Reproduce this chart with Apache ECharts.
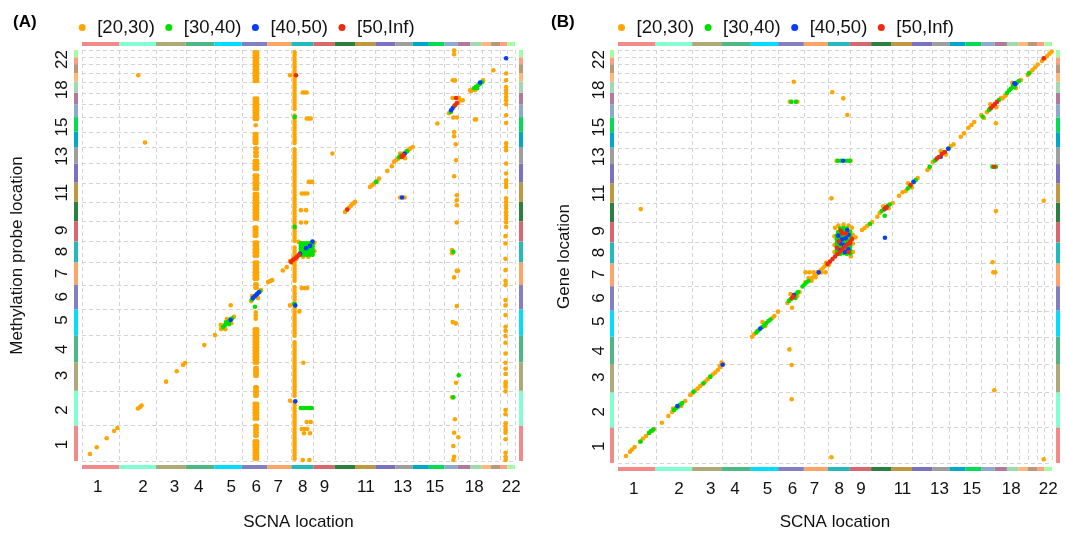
<!DOCTYPE html>
<html>
<head>
<meta charset="utf-8">
<script src="https://cdn.jsdelivr.net/npm/echarts@6/dist/echarts.min.js"></script>
<style>
  html, body { margin: 0; padding: 0; background: #ffffff; }
  #chart { width: 1065px; height: 537px; }
</style>
</head>
<body>
<div id="chart"></div>
<script>
// Chromosome lengths (Mb, hg19) laid end to end on a genome-wide axis
const chromLengths = [249, 243, 198, 191, 181, 171, 159, 146, 141, 136, 135, 134, 115, 107, 103, 90, 81, 78, 59, 63, 48, 51];
const chromColors = ['#F28A8A', '#80FFD0', '#ADAA78', '#4CB884', '#00DDFF', '#8280C0', '#FFA468', '#22BBBB',
  '#D86870', '#2B8040', '#C09840', '#7A72C0', '#9E9E9E', '#00A8C8', '#00DD55', '#8AAAD0', '#B07A98',
  '#A0D8B0', '#FFB878', '#BB9978', '#FFA080', '#A0FFA0'];

// Axis tick labels and their genome positions (Mb)
const tickLabels = ['1', '2', '3', '4', '5', '6', '7', '8', '9', '11', '13', '15', '18', '22'];
const xTickPositions = [105, 405, 615, 776, 992, 1158, 1304, 1468, 1612, 1887, 2133, 2346, 2608, 2854];
const yTickPositions = [116, 357, 598, 782, 988, 1150, 1315, 1468, 1617, 1880, 2135, 2340, 2600, 2812];

// Association strength classes
const classNames = ['[20,30)', '[30,40)', '[40,50)', '[50,Inf)'];
const classColors = ['#FFA500', '#00E000', '#0A3CFF', '#F02A10'];

// ---- Panel A: SCNA position (x) vs methylation probe position (y), genome Mb ----
// dense vertical runs of [20,30) associations: [x1, x2, y1, y2]
const probeRuns = [
  [1133, 1180, 2646, 2879], [1133, 1180, 2380, 2555], [1140, 1170, 2331, 2373], [1133, 1175, 2212, 2306],
  [1137, 1177, 2121, 2205], [1133, 1180, 2030, 2117], [1133, 1180, 1890, 2016], [1133, 1180, 1680, 1886],
  [1133, 1175, 1561, 1652], [1133, 1180, 1421, 1547], [1133, 1180, 1260, 1407], [1137, 1177, 1197, 1253],
  [1137, 1173, 980, 1057], [1133, 1180, 672, 938], [1137, 1177, 581, 668], [1137, 1177, 441, 532],
  [1133, 1180, 280, 416], [1137, 1177, 161, 262], [1133, 1180, 0, 154],
  [1397, 1430, 2450, 2879], [1397, 1430, 2212, 2436], [1397, 1430, 1526, 2198], [1397, 1430, 1246, 1512],
  [1397, 1430, 861, 1232], [1397, 1430, 441, 847], [1397, 1430, 0, 427]
];
const probe20 = [
  [53, 49], [98, 96], [164, 159], [213, 210], [235, 231], [372, 368], [386, 378], [396, 389],
  [559, 556], [630, 629], [672, 672], [685, 686], [813, 812], [884, 882],
  [925, 925], [953, 923], [923, 953], [993, 965], [963, 995], [1010, 1010], [989, 1091],
  [1124, 1120], [1190, 1197], [1130, 1155], [1170, 1141],
  [1237, 1253], [1250, 1260], [1264, 1267], [1335, 1334], [1361, 1358],
  [1383, 1400], [1397, 1388], [1410, 1425], [1423, 1413], [1436, 1438],
  [1440, 1535], [1545, 1530], [1545, 1470], [1505, 1430], [1470, 1430],
  [1383, 2702], [1468, 2581], [1481, 2581], [1494, 2581], [1494, 2399], [1508, 2399], [1521, 2399],
  [1508, 1955], [1520, 1955], [1530, 1955], [1461, 1874], [1480, 1874], [1498, 1874],
  [1456, 1757], [1490, 1757], [1456, 1671], [1490, 1671], [1461, 1211], [1480, 1211], [1498, 1211],
  [1445, 1048], [1472, 688], [1494, 273], [1521, 273], [1461, 224], [1480, 224], [1498, 224],
  [1476, 194], [1516, 194], [1468, 7], [1512, 7], [1383, 1090], [1383, 422],
  [374, 2702], [419, 2231], [1665, 2154],
  [1749, 1745], [1762, 1761], [1776, 1775], [1789, 1789], [1802, 1803], [1815, 1815],
  [1915, 1920], [1929, 1932], [1942, 1943], [1962, 1960], [1975, 1979], [2030, 2032], [2060, 2065],
  [2075, 2097], [2088, 2107], [2101, 2118], [2115, 2128], [2128, 2142], [2141, 2156], [2155, 2167],
  [2168, 2177], [2181, 2188], [2199, 2200], [2115, 2153], [2148, 2121],
  [2115, 1846], [2145, 1846], [2363, 2364],
  [2514, 2527], [2464, 2543], [2507, 2543], [2440, 2436], [2500, 2506], [2531, 2527],
  [2587, 2590], [2600, 2604], [2667, 2667], [2580, 2597], [2613, 2598],
  [2613, 2392], [2620, 2392], [2735, 2737],
  [2474, 2876], [2474, 2849], [2465, 2667], [2480, 2667], [2469, 2406], [2492, 2406], [2474, 2305],
  [2474, 2275], [2485, 2219], [2487, 2107], [2474, 1995], [2492, 1862], [2492, 1827], [2492, 1792],
  [2492, 1671], [2460, 1477], [2460, 1455], [2492, 1332], [2500, 1332], [2474, 1286], [2492, 1085],
  [2465, 973], [2485, 964], [2487, 548], [2460, 446], [2480, 292], [2474, 198], [2502, 166],
  [2469, 105], [2474, 30], [2469, 7],
  [2816, 1575], [2816, 1524], [2816, 1416], [2816, 1337], [2816, 1262], [2816, 1232], [2816, 1127],
  [2816, 1090], [2816, 1022], [2816, 940], [2816, 912], [2816, 875], [2816, 828], [2816, 753],
  [2816, 688], [2816, 646], [2816, 609], [2816, 553], [2816, 539], [2816, 520], [2816, 488],
  [2816, 357], [2816, 327], [2816, 264], [2816, 240], [2816, 217], [2816, 198], [2816, 152],
  [2816, 58], [2816, 30], [2816, 7],
  [2820, 2714], [2820, 2667], [2820, 2620], [2820, 2597], [2820, 2574], [2820, 2550], [2820, 2527],
  [2820, 2499], [2820, 2422], [2820, 2368], [2820, 2226], [2820, 2200], [2820, 2177], [2820, 2084],
  [2820, 2014], [2820, 1967], [2820, 1944], [2820, 1920], [2820, 1841], [2820, 1815], [2820, 1792],
  [2820, 1769], [2820, 1743], [2820, 1722], [2820, 1699], [2820, 1673], [2820, 1640]
];
const probe30 = [
  [938, 938], [951, 952], [964, 966], [978, 980], [991, 994], [998, 998], [958, 973], [978, 959],
  [1130, 1131], [1144, 1148], [1157, 1162], [1170, 1176], [1184, 1187], [1150, 1080],
  [1455, 1445], [1475, 1445], [1495, 1445], [1515, 1445], [1533, 1445],
  [1455, 1465], [1475, 1465], [1495, 1465], [1515, 1465], [1533, 1465],
  [1455, 1485], [1475, 1485], [1495, 1485], [1515, 1485], [1533, 1485],
  [1455, 1505], [1475, 1505], [1495, 1505], [1515, 1505], [1533, 1505],
  [1455, 1525], [1475, 1525], [1495, 1525], [1515, 1525], [1533, 1525],
  [1414, 2410], [1414, 1640], [1411, 1099],
  [1455, 371], [1470, 371], [1485, 371], [1500, 371], [1515, 371], [1527, 371],
  [1955, 1955], [2108, 2128], [2121, 2139], [2148, 2156], [2161, 2170],
  [2452, 2445], [2474, 2485],
  [2607, 2611], [2620, 2622], [2633, 2632], [2647, 2643], [2660, 2653], [2627, 2611],
  [2469, 1465], [2505, 600], [2469, 446]
];
const probe40 = [
  [988, 987], [1137, 1141], [1150, 1155], [1164, 1169], [1177, 1183],
  [1450, 1451], [1490, 1491], [1516, 1507], [1532, 1537],
  [1418, 1090], [1418, 418], [2145, 2152], [2128, 1846],
  [2454, 2457], [2465, 2473], [2647, 2651], [2820, 2821]
];
const probe50 = [
  [1390, 1395], [1403, 1409], [1416, 1419], [1430, 1430], [1443, 1444],
  [1423, 2702], [1764, 1762], [2128, 2135], [2138, 2142], [2126, 2130],
  [2480, 2492], [2492, 2508], [2487, 2543]
];

// ---- Panel B: SCNA position (x) vs gene position (y), genome Mb ----
const gene20 = [
  [53, 49], [80, 79], [93, 94], [110, 112],
  [146, 148], [166, 171], [186, 188], [206, 209], [226, 223], [239, 237],
  [291, 281], [334, 328], [359, 355], [446, 432], [365, 380], [420, 398],
  [479, 474], [495, 488], [512, 505], [529, 519], [545, 537], [562, 551], [579, 568], [595, 585],
  [612, 599], [628, 617], [645, 631], [662, 648], [675, 676], [678, 669], [698, 690], [688, 700],
  [889, 880], [904, 899], [924, 920], [1024, 1011], [1037, 1025], [978, 955], [958, 983],
  [1062, 1055], [1124, 1115], [1137, 1136], [1204, 1192], [1190, 1164], [1144, 1178],
  [1155, 1082], [1137, 792], [1152, 683], [1152, 444],
  [1277, 1282], [1290, 1293], [1303, 1303], [1317, 1317], [1330, 1328], [1343, 1342], [1357, 1356],
  [1370, 1370], [1244, 1329], [1270, 1329], [1297, 1329], [1324, 1329], [1350, 1329], [1377, 1329],
  [1244, 1262], [1264, 1289], [1284, 1270], [1310, 1295],
  [1380, 1395], [1398, 1380], [1436, 1470], [1436, 1520], [1436, 1580], [1440, 1640], [1462, 1655],
  [1496, 1660], [1530, 1655], [1552, 1640], [1558, 1590], [1558, 1530], [1558, 1470], [1545, 1440],
  [1576, 1573], [1619, 1624], [1636, 1638], [1652, 1652], [1669, 1666], [1686, 1680], [1720, 1717],
  [1736, 1743], [1822, 1812], [1796, 1776], [1760, 1790], [1864, 1863], [1887, 1887],
  [1909, 1896], [1988, 1986], [1950, 1920], [1925, 1950], [2053, 2042], [2065, 2056],
  [2088, 2098], [2108, 2112], [2208, 2209], [2175, 2150], [2140, 2175], [2226, 2221],
  [2274, 2274], [2296, 2298], [2325, 2337], [2345, 2356], [2363, 2377], [2410, 2425], [2428, 2405],
  [2447, 2446], [2540, 2544], [2552, 2542], [2574, 2565], [2470, 2500], [2510, 2480], [2507, 2368],
  [2567, 2558], [2673, 2670], [2640, 2614], [2615, 2650],
  [2718, 2704], [2733, 2722], [2750, 2739], [2766, 2757], [2784, 2778],
  [2813, 2802], [2830, 2819], [2846, 2837], [2863, 2854], [2877, 2868],
  [1166, 2658], [1421, 2584], [1494, 2542], [1521, 2426], [1450, 2107], [1543, 2107], [1416, 1845],
  [2507, 1756], [2824, 1828], [151, 1770], [2485, 1399], [2490, 1329], [2503, 1329], [2496, 507],
  [1416, 40], [2824, 26], [1140, 2518], [1190, 2518]
];
const gene30 = [
  [150, 150], [206, 209], [219, 223], [233, 233],
  [372, 369], [386, 383], [400, 393], [412, 408], [426, 418],
  [501, 497], [567, 556], [612, 602],
  [918, 910], [931, 924], [958, 948], [971, 962], [984, 976], [998, 990], [1011, 1000],
  [1134, 1129], [1147, 1143], [1184, 1181], [1194, 1192], [1177, 1150],
  [1224, 1230], [1237, 1244], [1250, 1258], [1264, 1269],
  [1452, 1460], [1474, 1458], [1496, 1462], [1518, 1458], [1540, 1460],
  [1452, 1485], [1474, 1482], [1496, 1486], [1518, 1482], [1540, 1485],
  [1452, 1510], [1474, 1507], [1496, 1512], [1518, 1507], [1540, 1510],
  [1452, 1535], [1474, 1532], [1496, 1538], [1518, 1532], [1540, 1535],
  [1452, 1560], [1474, 1557], [1496, 1562], [1518, 1557], [1540, 1560],
  [1452, 1585], [1474, 1582], [1496, 1588], [1518, 1582], [1540, 1585],
  [1460, 1610], [1482, 1607], [1504, 1612], [1526, 1607], [1540, 1612],
  [1474, 1634], [1496, 1638], [1518, 1634],
  [1671, 1666], [1749, 1756], [1762, 1767], [1789, 1791], [1802, 1802], [1769, 1724],
  [1922, 1913], [1935, 1927], [1962, 1957], [1975, 1972], [2068, 2065],
  [2101, 2108], [2128, 2133], [2161, 2164], [2195, 2192], [2419, 2414],
  [2461, 2460], [2527, 2530], [2467, 2470],
  [2580, 2579], [2594, 2596], [2607, 2610], [2620, 2628], [2647, 2652], [2660, 2663], [2630, 2620],
  [2725, 2716],
  [1150, 2518], [1180, 2518], [1458, 2107], [1478, 2107], [1518, 2107], [1538, 2107],
  [2484, 2065], [2507, 2065]
];
const gene40 = [
  [394, 397], [694, 685], [944, 937], [1167, 1171], [1332, 1329],
  [1476, 1531], [1521, 1624], [1510, 1566], [1498, 1519], [1528, 1489], [1472, 1485],
  [1462, 1585], [1530, 1590], [1505, 1470], [1486, 1560],
  [1776, 1777], [1771, 1570], [1960, 1961], [2141, 2135], [2190, 2191], [2629, 2647], [2637, 2642],
  [1494, 2107]
];
const gene50 = [
  [1154, 1150], [1164, 1160],
  [1390, 1387], [1406, 1404], [1423, 1422], [1440, 1439], [1456, 1457], [1473, 1474], [1490, 1492],
  [1506, 1509], [1523, 1526], [1540, 1544], [1553, 1561], [1538, 1531], [1488, 1601],
  [1465, 1545], [1512, 1600], [1530, 1470], [1478, 1620], [1452, 1500],
  [1769, 1770], [1782, 1784], [1942, 1938],
  [2115, 2122], [2131, 2133], [2148, 2154], [2168, 2168],
  [2474, 2474], [2487, 2488], [2500, 2502], [2514, 2516], [2824, 2821], [2496, 2065]
];

// ---- layout helpers ----
const chromStarts = [];
chromLengths.reduce((acc, len) => { chromStarts.push(acc); return acc + len; }, 0);
const genomeLength = chromLengths.reduce((a, b) => a + b, 0);
const boundaryIndex = chromLengths.map((_, i) => i).concat([chromLengths.length]);
const FONT = '"Liberation Sans", Arial, Helvetica, sans-serif';
const DOT = 4.6;

function boundaryPos(i) {
  return i < chromLengths.length ? chromStarts[i] : genomeLength;
}

// chromosome colour strips on all four sides plus dashed boundary lines
function renderFrame(params, api) {
  const i = api.value(0);
  const cs = params.coordSys;
  const start = boundaryPos(i);
  const px = Math.round(api.coord([start, 0])[0]) + 0.5;
  const py = Math.round(api.coord([0, start])[1]) + 0.5;
  const dash = { stroke: '#D4D4D4', lineWidth: 1, lineDash: [4, 3] };
  const children = [
    { type: 'line', shape: { x1: px, y1: cs.y, x2: px, y2: cs.y + cs.height }, style: dash },
    { type: 'line', shape: { x1: cs.x, y1: py, x2: cs.x + cs.width, y2: py }, style: dash }
  ];
  if (i < chromLengths.length) {
    const end = start + chromLengths[i];
    const x0 = api.coord([start, 0])[0], x1 = api.coord([end, 0])[0];
    const y0 = api.coord([0, start])[1], y1 = api.coord([0, end])[1];
    const fill = chromColors[i];
    children.push(
      { type: 'rect', shape: { x: x0, y: cs.y - 8, width: x1 - x0, height: 4 }, style: { fill } },
      { type: 'rect', shape: { x: x0, y: cs.y + cs.height + 4, width: x1 - x0, height: 4 }, style: { fill } },
      { type: 'rect', shape: { x: cs.x - 8, y: y1, width: 4, height: y0 - y1 }, style: { fill } },
      { type: 'rect', shape: { x: cs.x + cs.width + 4, y: y1, width: 4, height: y0 - y1 }, style: { fill } }
    );
  }
  return { type: 'group', children };
}

// a run of stacked associations, drawn as closely packed dots
function renderRun(params, api) {
  const a = api.coord([api.value(0), api.value(3)]);
  const b = api.coord([api.value(1), api.value(2)]);
  const r = DOT / 2;
  const w = b[0] - a[0], h = b[1] - a[1];
  const cols = Math.max(1, Math.round((w - DOT) / 2.4) + 1);
  const rows = Math.max(1, Math.round((h - DOT) / 3) + 1);
  const children = [];
  for (let c = 0; c < cols; c++) {
    const cx = cols === 1 ? a[0] + w / 2 : a[0] + r + c * (w - DOT) / (cols - 1);
    for (let k = 0; k < rows; k++) {
      const cy = rows === 1 ? a[1] + h / 2 : a[1] + r + k * (h - DOT) / (rows - 1);
      children.push({ type: 'circle', shape: { cx, cy, r }, style: { fill: classColors[0] } });
    }
  }
  return { type: 'group', children };
}

function makeFormatter(positions) {
  return function (v) {
    let best = 0;
    positions.forEach((p, k) => { if (Math.abs(p - v) < Math.abs(positions[best] - v)) best = k; });
    return tickLabels[best];
  };
}

function makeXAxis(gridIndex, nameGap) {
  return {
    type: 'value', gridIndex, min: 0, max: genomeLength,
    axisLine: { show: false }, axisTick: { show: false }, splitLine: { show: false },
    axisLabel: {
      customValues: xTickPositions, formatter: makeFormatter(xTickPositions), margin: 18,
      color: '#111', fontSize: 17, fontFamily: FONT, hideOverlap: false
    },
    name: 'SCNA location', nameLocation: 'middle', nameGap,
    nameTextStyle: { color: '#111', fontSize: 17, fontFamily: FONT }
  };
}

function makeYAxis(gridIndex, name, nameGap, margin) {
  return {
    type: 'value', gridIndex, min: 0, max: genomeLength,
    axisLine: { show: false }, axisTick: { show: false }, splitLine: { show: false },
    axisLabel: {
      customValues: yTickPositions, formatter: makeFormatter(yTickPositions), rotate: 90, margin,
      color: '#111', fontSize: 17, fontFamily: FONT, hideOverlap: false
    },
    name, nameLocation: 'middle', nameGap, nameRotate: 90,
    nameTextStyle: { color: '#111', fontSize: 17, fontFamily: FONT }
  };
}

function panelSeries(idx, groups, runs) {
  const list = [{
    type: 'custom', xAxisIndex: idx, yAxisIndex: idx, data: boundaryIndex,
    renderItem: renderFrame, clip: false, silent: true, z: 1
  }];
  if (runs) {
    list.push({
      type: 'custom', name: classNames[0], xAxisIndex: idx, yAxisIndex: idx, data: runs,
      renderItem: renderRun, clip: true, silent: true, z: 2,
      itemStyle: { color: classColors[0] }
    });
  }
  groups.forEach((pts, k) => {
    list.push({
      type: 'scatter', name: classNames[k], xAxisIndex: idx, yAxisIndex: idx, data: pts,
      symbol: 'circle', symbolSize: DOT, z: 3 + k,
      itemStyle: { color: classColors[k], opacity: 1 }, emphasis: { disabled: true }, silent: true
    });
  });
  return list;
}

function makeLegend(left) {
  return {
    left, top: 13, orient: 'horizontal', icon: 'circle',
    itemWidth: 20, itemHeight: 7, itemGap: 10.5, symbolKeepAspect: true,
    data: classNames,
    textStyle: { color: '#111', fontSize: 18.5, fontFamily: FONT },
    selectedMode: false
  };
}

const chart = echarts.init(document.getElementById('chart'), null, { renderer: 'canvas' });
chart.setOption({
  animation: false,
  backgroundColor: '#ffffff',
  color: classColors,
  title: [
    { text: '(A)', left: 8, top: 9, textStyle: { fontSize: 17, fontWeight: 'bold', color: '#000', fontFamily: FONT } },
    { text: '(B)', left: 546, top: 9, textStyle: { fontSize: 17, fontWeight: 'bold', color: '#000', fontFamily: FONT } }
  ],
  legend: [makeLegend(73.7), makeLegend(613)],
  grid: [
    { left: 82, right: 550, top: 50, bottom: 76, outerBoundsMode: 'none', containLabel: false },
    { left: 618, right: 13, top: 50, bottom: 74, outerBoundsMode: 'none', containLabel: false }
  ],
  xAxis: [makeXAxis(0, 53), makeXAxis(1, 51)],
  yAxis: [makeYAxis(0, 'Methylation probe location', 56, 11), makeYAxis(1, 'Gene location', 45, 10)],
  series: [].concat(
    panelSeries(0, [probe20, probe30, probe40, probe50], probeRuns),
    panelSeries(1, [gene20, gene30, gene40, gene50], null)
  )
});
</script>
</body>
</html>
